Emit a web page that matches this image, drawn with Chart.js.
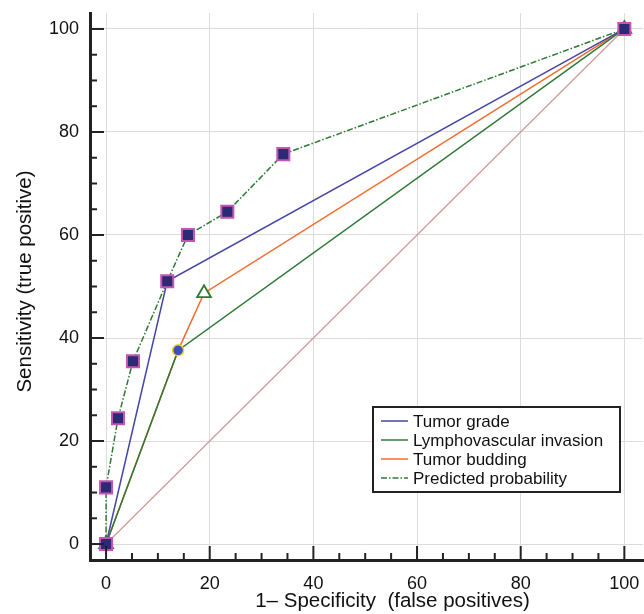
<!DOCTYPE html>
<html>
<head>
<meta charset="utf-8">
<script src="https://cdn.jsdelivr.net/npm/chart.js@4.4.0/dist/chart.umd.min.js"></script>
<style>
  html, body { margin: 0; padding: 0; background: #fff; }
  #wrap { width: 644px; height: 614px; }
</style>
</head>
<body>
<div id="wrap"><canvas id="roc" width="644" height="614"></canvas></div>
<script>
// ROC curves, values (x = 1-specificity, y = sensitivity)
const seriesNames = ['Tumor grade', 'Lymphovascular invasion', 'Tumor budding', 'Predicted probability'];
const tumorGradeX = [0, 11.8, 100];
const tumorGradeY = [0, 51, 100];
const lviX = [0, 13.9, 100];
const lviY = [0, 37.6, 100];
const buddingX = [0, 13.9, 18.9, 100];
const buddingY = [0, 37.6, 48.7, 100];
const predictedX = [0, 0, 2.3, 5.2, 11.8, 15.8, 23.4, 34.2, 100];
const predictedY = [0, 11, 24.4, 35.5, 51, 60, 64.5, 75.7, 100];
const refX = [0, 100];
const refY = [0, 100];
const tickValues = [0, 20, 40, 60, 80, 100];
const minorStep = 5;
const xTitle = '1\u2013 Specificity  (false positives)';
const yTitle = 'Sensitivity (true positive)';

const pts = (xs, ys) => xs.map((x, i) => ({ x: x, y: ys[i] }));
const FONT = '"Liberation Sans", Arial, sans-serif';

// inward major/minor tick marks
const tickMarks = {
  id: 'tickMarks',
  afterDraw(chart) {
    const ctx = chart.ctx, a = chart.chartArea;
    const xs = chart.scales.x, ys = chart.scales.y;
    ctx.save();
    ctx.strokeStyle = '#222';
    ctx.lineWidth = 2;
    for (let v = 0; v <= 100; v += minorStep) {
      const len = v % 20 === 0 ? 14 : 7;
      const px = xs.getPixelForValue(v);
      ctx.beginPath(); ctx.moveTo(px, a.bottom); ctx.lineTo(px, a.bottom - len); ctx.stroke();
      const py = ys.getPixelForValue(v);
      ctx.beginPath(); ctx.moveTo(a.left, py); ctx.lineTo(a.left + len, py); ctx.stroke();
    }
    ctx.restore();
  }
};

// axis titles (x title sits a bit right of the plot centre in the original)
const axisTitles = {
  id: 'axisTitles',
  afterDraw(chart) {
    const ctx = chart.ctx, a = chart.chartArea;
    ctx.save();
    ctx.fillStyle = '#111';
    ctx.font = '20.5px ' + FONT;
    ctx.textAlign = 'center';
    ctx.textBaseline = 'middle';
    ctx.fillText(xTitle, (a.left + a.right) / 2 + 26, chart.height - 13);
    ctx.translate(25, (a.top + a.bottom) / 2 - 5);
    ctx.rotate(-Math.PI / 2);
    ctx.fillText(yTitle, 0, 0);
    ctx.restore();
  }
};

// boxed legend inside the plot, lower right
const boxLegend = {
  id: 'boxLegend',
  afterDraw(chart) {
    const ctx = chart.ctx, a = chart.chartArea;
    const x0 = a.right - 270, y0 = a.bottom - 153, w = 247, h = 85;
    ctx.save();
    ctx.fillStyle = '#fff';
    ctx.fillRect(x0, y0, w, h);
    ctx.strokeStyle = '#222';
    ctx.lineWidth = 2;
    ctx.strokeRect(x0, y0, w, h);
    ctx.font = '17px ' + FONT;
    ctx.textBaseline = 'middle';
    seriesNames.forEach((name, i) => {
      const ds = chart.data.datasets.find(d => d.label === name);
      const cy = y0 + 14 + i * 19;
      ctx.strokeStyle = ds.borderColor;
      ctx.lineWidth = 1.5;
      ctx.setLineDash(ds.borderDash || []);
      ctx.beginPath(); ctx.moveTo(x0 + 8, cy); ctx.lineTo(x0 + 35, cy); ctx.stroke();
      ctx.setLineDash([]);
      ctx.fillStyle = '#111';
      ctx.fillText(name, x0 + 40, cy + 1);
    });
    ctx.restore();
  }
};

const axisCommon = {
  type: 'linear',
  afterBuildTicks: s => { s.ticks = tickValues.map(v => ({ value: v })); },
  grid: { color: '#dcdcdc', lineWidth: 1, drawTicks: false },
  border: { display: true, color: '#222', width: 3 },
  ticks: { color: '#111', font: { family: FONT, size: 18 } }
};

new Chart(document.getElementById('roc'), {
  type: 'scatter',
  data: {
    datasets: [
      {
        label: 'Predicted probability',
        data: pts(predictedX, predictedY),
        showLine: true,
        borderColor: '#2e7a34',
        borderWidth: 1.5,
        borderDash: [6, 2, 1.5, 2],
        pointStyle: 'rect',
        pointRadius: 8.5,
        pointBackgroundColor: '#2c2a72',
        pointBorderColor: '#c455b4',
        pointBorderWidth: 2
      },
      {
        label: 'Tumor grade',
        data: pts(tumorGradeX, tumorGradeY),
        showLine: true,
        borderColor: '#4646a6',
        borderWidth: 1.5,
        pointRadius: 0
      },
      {
        label: 'Lymphovascular invasion',
        data: pts(lviX, lviY),
        showLine: true,
        borderColor: '#2f7a36',
        borderWidth: 1.5,
        pointStyle: 'circle',
        pointRadius: [0, 5.5, 0],
        pointBackgroundColor: '#3a4fc4',
        pointBorderColor: '#f2d22a',
        pointBorderWidth: 1.5
      },
      {
        label: 'Tumor budding',
        data: pts(buddingX, buddingY),
        showLine: true,
        borderColor: '#f36a2c',
        borderWidth: 1.5,
        pointStyle: 'triangle',
        pointRadius: [8, 0, 8, 8],
        pointBackgroundColor: '#fff',
        pointBorderColor: '#2f7a36',
        pointBorderWidth: 1.8
      },
      {
        label: 'Reference',
        data: pts(refX, refY),
        showLine: true,
        borderColor: '#cf9a94',
        borderWidth: 1.2,
        pointRadius: 0
      }
    ]
  },
  options: {
    responsive: false,
    animation: false,
    events: [],
    layout: { autoPadding: false, padding: { top: 13, right: 1, left: 0, bottom: 0 } },
    plugins: { legend: { display: false }, tooltip: { enabled: false } },
    scales: {
      x: Object.assign({}, axisCommon, {
        min: -3.1, max: 103.6,
        ticks: Object.assign({}, axisCommon.ticks, { padding: 13 }),
        afterFit: s => { s.height = 54; s.paddingLeft = 0; s.paddingRight = 0; }
      }),
      y: Object.assign({}, axisCommon, {
        min: -3.1, max: 103.1,
        ticks: Object.assign({}, axisCommon.ticks, { padding: 11 }),
        afterFit: s => { s.width = 90; s.paddingTop = 0; s.paddingBottom = 0; }
      })
    }
  },
  plugins: [tickMarks, axisTitles, boxLegend]
});
</script>
</body>
</html>
